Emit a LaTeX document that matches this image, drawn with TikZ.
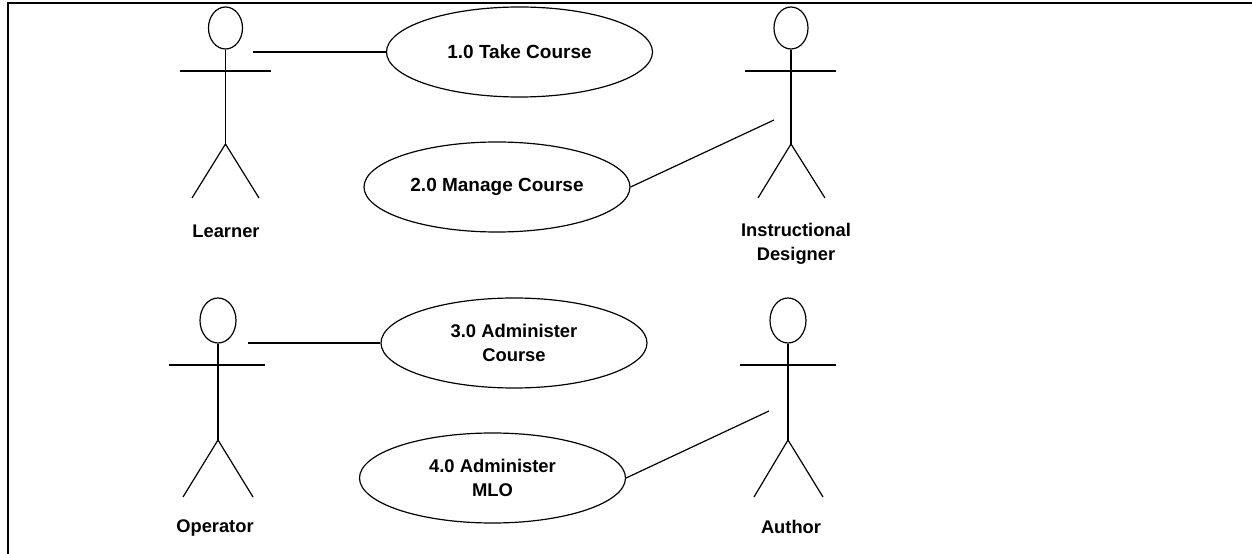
\documentclass[tikz,border=0pt]{standalone}
\usepackage{fontspec}
\setmainfont{Liberation Sans}
\usetikzlibrary{shapes.geometric}
\tikzset{
 uc/.style={draw=black,line width=1.2pt,ellipse,minimum width=266bp,minimum height=90bp,inner sep=0pt,align=center,font=\fontsize{19bp}{23.5bp}\selectfont\bfseries},
 uctwo/.style={uc,font=\fontsize{18.4bp}{23.5bp}\selectfont\bfseries},
 lab/.style={inner sep=0pt,align=center,font=\fontsize{18.3bp}{24bp}\selectfont\bfseries},
 ln/.style={line width=1.2pt},
 head/.style={draw=black,line width=1.2pt,ellipse,minimum width=#1,inner sep=0pt},
}
% name, body x, head top y, head width, head height, arm left, arm right, foot left, foot right
\newcommand{\actor}[9]{%
 \node[head=#4bp,minimum height=#5bp] (#1h) at (#2,-#3-#5/2) {};
 \coordinate (#1arml) at (#6,-\army);
 \coordinate (#1armr) at (#7,-\army);
 \coordinate (#1hip) at (#2,-\hipy);
 \coordinate (#1ll) at (#8,-\footy);
 \coordinate (#1lr) at (#9,-\footy);
 \draw[ln] (#1h.south) -- (#1hip);
 \draw[ln] (#1arml) -- (#1armr);
 \draw[ln] (#1ll) -- (#1hip) -- (#1lr);
}
\begin{document}
\begin{tikzpicture}[x=1bp,y=1bp]
\useasboundingbox (0,0) rectangle (1252,-554);
\fill[white] (0,0) rectangle (1252,-554);
\coordinate (frameb) at (8,-554);
\coordinate (framec) at (8,-3);
\coordinate (framer) at (1252,-3);
\draw[line width=1.4pt] (frameb) -- (framec) -- (framer);
\def\army{71}\def\hipy{144}\def\footy{198}
\actor{A}{225.5}{7}{34}{42}{180}{271}{192}{259}
\actor{B}{791}{7}{34}{42}{745}{836}{758}{825}
\def\army{365}\def\hipy{440}\def\footy{497}
\actor{C}{218}{298}{36}{45}{169}{265}{183}{253}
\actor{D}{788}{298}{36}{45}{740}{836}{754}{823}
\node[uc] (u1) at (519.5,-52) {1.0 Take Course};
\node[uc] (u2) at (497,-187) {2.0 Manage Course};
\node[uctwo] (u3) at (514,-343) {3.0 Administer\\Course};
\node[uctwo] (u4) at (492.5,-478) {4.0 Administer\\MLO};
\node[lab] (l1) at (226,-231) {Learner};
\node[lab] (l2) at (796,-244) {Instructional\\Designer};
\node[lab] (l3) at (215,-528.5) {Operator};
\node[lab] (l4) at (791,-527) {Author};
\coordinate (a1) at (253,-52);
\coordinate (a2) at (774,-120);
\coordinate (a3) at (248,-343);
\coordinate (a4) at (769,-411);
\draw[ln] (a1) -- (u1.west);
\draw[ln] (a2) -- (u2.east);
\draw[ln] (a3) -- (u3.west);
\draw[ln] (a4) -- (u4.east);
\end{tikzpicture}
\end{document}
